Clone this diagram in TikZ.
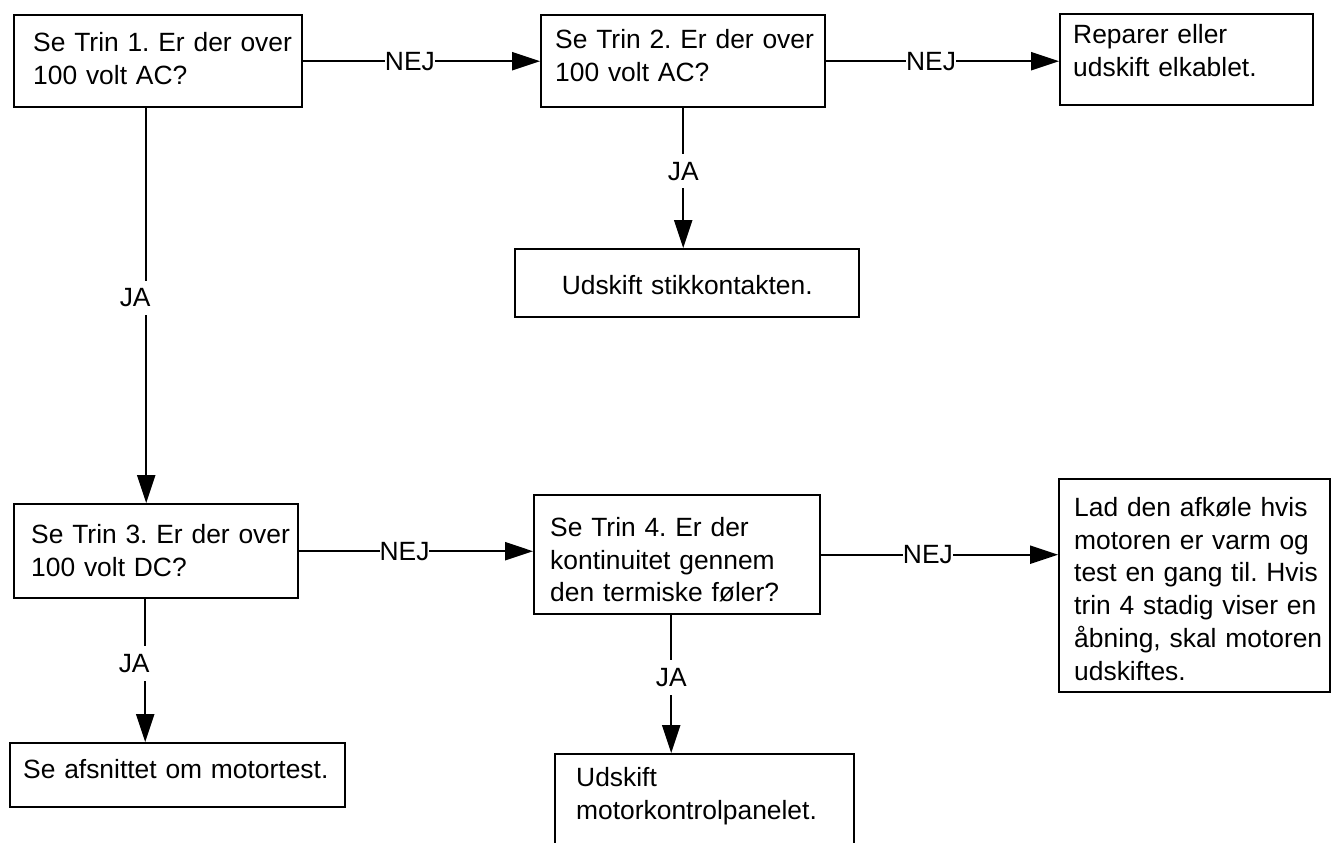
\documentclass[tikz,border=0pt]{standalone}
\usepackage{fontspec}
\setmainfont{Liberation Sans}
\usetikzlibrary{arrows.meta}
\newcommand\chartfont{\fontsize{13.2pt}{16.4pt}\selectfont\frenchspacing}

\begin{document}
\begin{tikzpicture}[x=0.5pt, y=-0.5pt, font=\chartfont,
  box/.style={rectangle, draw, line width=1.2pt, anchor=north west, inner sep=0pt, align=left},
  pad/.style={execute at begin node={\leftskip=#1\relax}},
  lbl/.style={fill=white, inner xsep=0pt, inner ysep=4pt},
  arr/.style={line width=1.1pt, -{Triangle[length=14pt,width=9pt]}}]
\useasboundingbox (0,0) rectangle (1331,842);
\node (trin1) [box, pad=9.5pt, text width=144pt, text height=18pt, text depth=28pt] at (13,14) {Se Trin 1. Er der over\\100 volt AC?};
\node (trin2) [box, pad=7pt, text width=142pt, text height=16.5pt, text depth=29.5pt] at (540,14) {Se Trin 2. Er der over\\100 volt AC?};
\node (kabel) [box, pad=6.5pt, text width=126.5pt, text height=14.5pt, text depth=31pt] at (1059,13) {Reparer eller\\udskift elkablet.};
\node (stik) [box, align=center, text width=172pt, text height=22.5pt, text depth=11.5pt] at (514,248) {Udskift stikkontakten.};
\node (trin3) [box, pad=8.5pt, text width=142pt, text height=19.5pt, text depth=27.5pt] at (13,503) {Se Trin 3. Er der over\\100 volt DC?};
\node (trin4) [box, pad=8pt, text width=143pt, text height=20.5pt, text depth=39pt] at (533,494) {Se Trin 4. Er der\\kontinuitet gennem\\den termiske føler?};
\node (afkoel) [box, pad=7.5pt, text width=135.5pt, text height=18.5pt, text depth=88pt] at (1058,478) {Lad den afkøle hvis\\motoren er varm og\\test en gang til. Hvis\\trin 4 stadig viser en\\åbning, skal motoren\\udskiftes.};
\node (motortest) [box, pad=6.5pt, text width=167.5pt, text height=17.5pt, text depth=14.5pt] at (9,742) {Se afsnittet om motortest.};
\node (panel) [box, pad=10.5pt, text width=149.5pt, text height=16pt, text depth=47.5pt] at (554,753) {Udskift\\motorkontrolpanelet.};
\draw [arr] (trin1.east) -- node[lbl, pos=.45] {NEJ} (trin2.west);
\draw [arr] (trin2.east) -- node[lbl, pos=.45] {NEJ} (trin2.east -| kabel.west);
\draw [arr] (trin2.south) -- node[lbl, pos=.45] {JA} (trin2.south |- stik.north);
\draw [arr] ([xshift=-6pt]trin1.south) -- node[lbl, pos=.48, xshift=-5.5pt] {JA} ([xshift=-6pt]trin1.south |- trin3.north);
\draw [arr] (trin3.east) -- node[lbl, pos=.45] {NEJ} (trin3.east -| trin4.west);
\draw [arr] (trin4.east) -- node[lbl, pos=.45] {NEJ} (trin4.east -| afkoel.west);
\draw [arr] ([xshift=-5.5pt]trin3.south) -- node[lbl, pos=.45, xshift=-5.5pt] {JA} ([xshift=-5.5pt]trin3.south |- motortest.north);
\draw [arr] ([xshift=-3pt]trin4.south) -- node[lbl, pos=.45] {JA} ([xshift=-3pt]trin4.south |- panel.north);
\end{tikzpicture}
\end{document}
